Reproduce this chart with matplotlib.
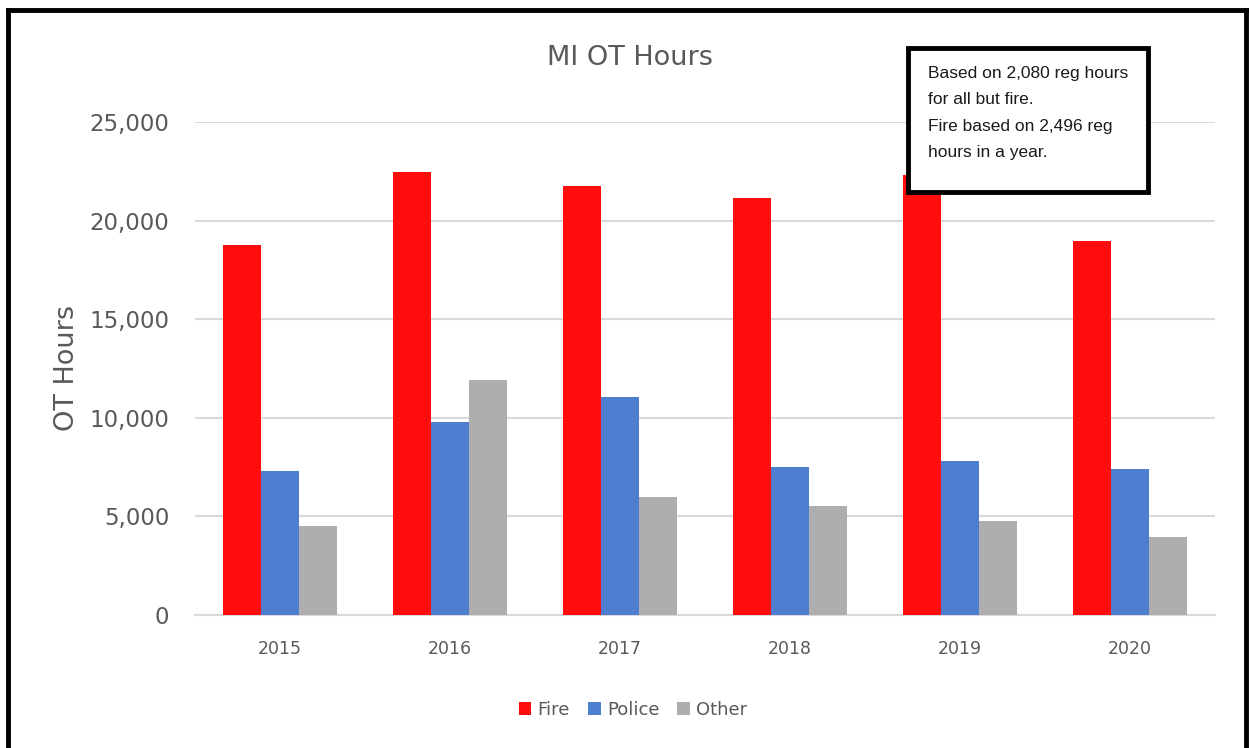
import matplotlib
matplotlib.use("Agg")
import matplotlib.pyplot as plt
from matplotlib.lines import Line2D
from matplotlib.patches import Rectangle
from matplotlib.ticker import FuncFormatter
import numpy as np

years = ["2015", "2016", "2017", "2018", "2019", "2020"]
fire = [18750, 22450, 21750, 21150, 22300, 18950]
police = [7320, 9800, 11080, 7520, 7820, 7420]
other = [4520, 11930, 5990, 5540, 4770, 3960]
series_names = ["Fire", "Police", "Other"]
colors = ["#FF0C0C", "#4E7ED0", "#AEAEAE"]
title = "MI OT Hours"
ylabel = "OT Hours"
note = "Based on 2,080 reg hours\nfor all but fire.\nFire based on 2,496 reg\nhours in a year."

plt.rcParams['font.family'] = ['DejaVu Sans']
TXT = "#595959"

fig = plt.figure(figsize=(12.49, 7.48), dpi=100)
W, H = 1249, 748
ax = fig.add_axes([195/W, 1-615/H, (1215-195)/W, (615-122)/H])

x = np.arange(len(years))
bw = 0.222
for i, (vals, c, name) in enumerate(zip([fire, police, other], colors, series_names)):
    ax.bar(x + (i-1)*bw, vals, width=bw, color=c, label=name, zorder=3)

ax.set_xlim(-0.5, len(years)-0.5)
ax.set_ylim(0, 25000)
ax.set_yticks(np.arange(0, 25001, 5000))
ax.yaxis.set_major_formatter(FuncFormatter(lambda v, p: f"{int(v):,}"))
ax.set_xticks(x)
ax.set_xticklabels(years)
ax.grid(axis='y', color="#D9D9D9", linewidth=1.5, zorder=0)
for s in ["top", "right", "left"]:
    ax.spines[s].set_visible(False)
ax.spines["bottom"].set_color("#D9D9D9")
ax.spines["bottom"].set_linewidth(1.5)
ax.tick_params(axis='both', length=0)
ax.tick_params(axis='y', labelsize=16.5, labelcolor=TXT, pad=18.5)
ax.tick_params(axis='x', labelsize=12.5, labelcolor=TXT, pad=18)

fig.text(630/W, 1-58/H, title, ha='center', va='center', fontsize=19.5, color=TXT)
fig.text(67/W, 1-368/H, ylabel, ha='center', va='center', rotation=90, fontsize=19.5, color=TXT)

ax.legend(loc='center', bbox_to_anchor=(633/W, 1-710/H), bbox_transform=fig.transFigure,
          ncol=3, frameon=False, fontsize=13, labelcolor=TXT, handlelength=0.7,
          handleheight=0.7, handletextpad=0.35, columnspacing=1.0)

# note box
fig.patches.append(Rectangle((908/W, 1-192/H), (1148-908)/W, (192-48)/H,
                             transform=fig.transFigure, facecolor='white',
                             edgecolor='black', linewidth=3.5, zorder=10))
fig.text(928/W, 1-66/H, note, ha='left', va='top', fontsize=12.5, color='#1a1a1a',
         linespacing=1.95, zorder=11,
         family=['Liberation Sans Narrow', 'Liberation Sans', 'DejaVu Sans'])

# outer border (bottom cut off)
for xs, ys in [([8, 8], [748, 10]), ([8, 1246], [10, 10]), ([1246, 1246], [10, 748])]:
    fig.add_artist(Line2D([v/W for v in xs], [1-v/H for v in ys], color='black',
                          linewidth=3.5, transform=fig.transFigure))

fig.savefig("out.png", dpi=100)
